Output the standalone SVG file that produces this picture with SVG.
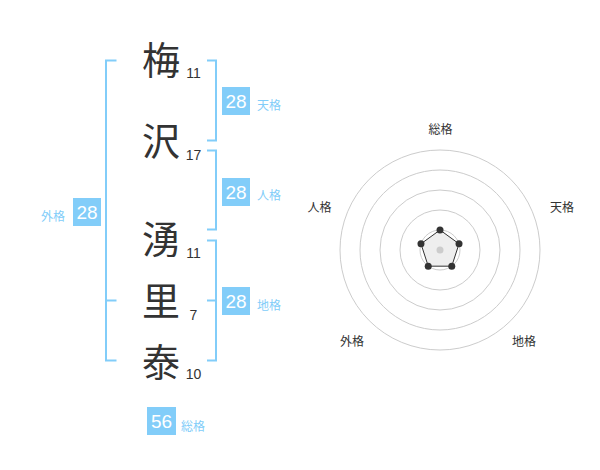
<svg xmlns="http://www.w3.org/2000/svg" width="600" height="470" viewBox="0 0 600 470">
<style>
.kanji{font-family:"Noto Sans CJK JP","Noto Sans",sans-serif;font-size:38px;fill:#333;text-anchor:middle}
.num{font-family:"Liberation Sans",Arial,sans-serif;font-size:14px;fill:#333;text-anchor:middle}
.br{fill:none;stroke:#82cdf9;stroke-width:2}
.box{fill:#82cdf9}
.bt{font-family:"Liberation Sans",Arial,sans-serif;font-size:19px;fill:#fff;text-anchor:middle}
.lb{font-family:"Noto Sans CJK JP",sans-serif;font-size:12px;fill:#82cdf9}
.ring{fill:none;stroke:#ccc;stroke-width:1}
.rl{font-family:"Noto Sans CJK JP",sans-serif;font-size:12px;fill:#333;text-anchor:middle}
.dot{fill:#333}
</style>
<rect width="600" height="470" fill="#fff"/>
<g id="connectors">
<path class="br" d="M116.5,60.5 H106 V360.5 H116.5 M106,300.5 H116.5"/>
<path class="br" d="M207,60.5 H216 V140.5 H207"/>
<path class="br" d="M207,150.5 H216 V229.5 H207"/>
<path class="br" d="M207,240.5 H216 V360.5 H207 M207,300.5 H216"/>
</g>
<g id="char1"><text class="kanji" x="161" y="74">梅</text><text class="num" x="193.5" y="78">11</text></g>
<g id="char2"><text class="kanji" x="161" y="155">沢</text><text class="num" x="193.5" y="160">17</text></g>
<g id="char3"><text class="kanji" x="161" y="253">湧</text><text class="num" x="193.5" y="258">11</text></g>
<g id="char4"><text class="kanji" x="161" y="315">里</text><text class="num" x="193.5" y="320">7</text></g>
<g id="char5"><text class="kanji" x="161" y="376">泰</text><text class="num" x="193.5" y="379">10</text></g>
<g id="tenkaku"><rect class="box" x="222" y="87" width="28" height="28"/><text class="bt" x="236" y="108">28</text><text class="lb" x="257" y="110">天格</text></g>
<g id="jinkaku"><rect class="box" x="222" y="178" width="28" height="28"/><text class="bt" x="236" y="199">28</text><text class="lb" x="257" y="200">人格</text></g>
<g id="chikaku"><rect class="box" x="222" y="287" width="28" height="28"/><text class="bt" x="236" y="308">28</text><text class="lb" x="257" y="310">地格</text></g>
<g id="gaikaku"><rect class="box" x="73" y="198" width="28" height="28"/><text class="bt" x="87" y="219">28</text><text class="lb" x="41" y="221">外格</text></g>
<g id="soukaku"><rect class="box" x="147" y="407" width="29" height="28"/><text class="bt" x="161.5" y="428">56</text><text class="lb" x="181" y="431">総格</text></g>
<g id="radar">
<circle class="ring" cx="440" cy="250" r="20"/>
<circle class="ring" cx="440" cy="250" r="40"/>
<circle class="ring" cx="440" cy="250" r="60"/>
<circle class="ring" cx="440" cy="250" r="80"/>
<circle class="ring" cx="440" cy="250" r="100"/>
<polygon points="440,230 459.02,243.82 451.76,266.18 428.24,266.18 420.98,243.82" fill="#eee" stroke="#333" stroke-width="1"/>
<circle cx="440" cy="250" r="3.5" fill="#ccc"/>
<circle class="dot" cx="440" cy="230" r="3.5"/>
<circle class="dot" cx="459.02" cy="243.82" r="3.5"/>
<circle class="dot" cx="451.76" cy="266.18" r="3.5"/>
<circle class="dot" cx="428.24" cy="266.18" r="3.5"/>
<circle class="dot" cx="420.98" cy="243.82" r="3.5"/>
<text class="rl" x="440.5" y="134">総格</text>
<text class="rl" x="562" y="212">天格</text>
<text class="rl" x="319.5" y="212">人格</text>
<text class="rl" x="352" y="346">外格</text>
<text class="rl" x="524" y="346">地格</text>
</g>
</svg>
